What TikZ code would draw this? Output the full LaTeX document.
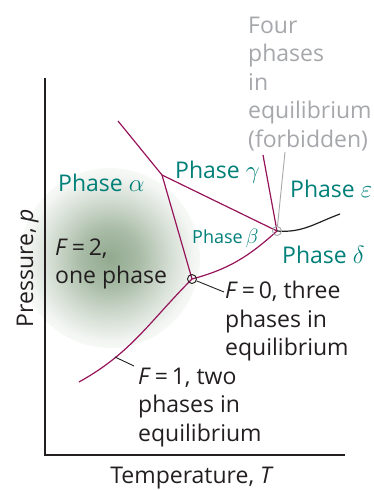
\documentclass[tikz,border=0pt]{standalone}
\usepackage{fontspec}
\setmainfont{Open Sans}
\definecolor{phasecol}{RGB}{0,128,120}
\definecolor{linecol}{RGB}{150,20,90}
\definecolor{graytxt}{RGB}{165,167,170}
\definecolor{blobcol}{RGB}{146,170,143}
\definecolor{inkcol}{RGB}{35,31,32}
\pgfdeclareradialshading{blobshade}{\pgfpoint{0bp}{0bp}}{%
  color(0bp)=(blobcol);
  color(8bp)=(blobcol!80!white);
  color(16bp)=(blobcol!42!white);
  color(23bp)=(blobcol!12!white);
  color(28bp)=(white);
  color(50bp)=(white)}
\begin{document}
\begin{tikzpicture}[x=1pt,y=-1pt,
  phaselbl/.style={text=phasecol,inner sep=0pt,font=\fontsize{23}{28}\selectfont},
  bodytxt/.style={text=inkcol,inner sep=0pt,align=left,font=\fontsize{23}{28.5}\selectfont},
  bound/.style={draw=linecol,line width=1.2pt},
  pointer/.style={draw=inkcol,line width=0.9pt},
  axisline/.style={draw=inkcol,line width=1.2pt}]
\useasboundingbox (0,0) rectangle (373,490);
% shaded one-phase region
\shade[shading=blobshade] (110,258) circle (90);
% axes
\coordinate (ytop) at (45,78);
\coordinate (orig) at (45,455);
\coordinate (xend) at (345,455);
\draw[axisline] (ytop) -- (orig) -- (xend);
% key points
\coordinate (A) at (118,121);
\coordinate (J) at (162,175);
\coordinate (Q) at (277,231);
\coordinate (G) at (263,155);
\coordinate (E) at (340,214);
\coordinate (T) at (192,279);
\coordinate (S) at (79,382);
\coordinate (C1) at (115,357);
% phase boundaries
\draw[bound] (A) -- (J) -- (Q);
\draw[bound] (J) -- (T);
\draw[bound] (G) -- (Q);
\draw[bound] (T) to[out=15,in=222] (Q);
\draw[bound] (S) to[out=29,in=225] (T);
\draw[draw=inkcol,line width=1.2pt] (Q) to[out=-5,in=200] (E);
% points
\node[draw=inkcol,circle,line width=0.9pt,minimum size=9pt,inner sep=0pt] (tc) at (T) {};
\node[draw=graytxt,circle,line width=0.9pt,minimum size=9pt,inner sep=0pt] (qc) at (Q) {};
% phase labels
\node[phaselbl,anchor=base west] (pa) at (58,191) {Phase $\alpha$};
\node[phaselbl,anchor=base west] (pg) at (175,178) {Phase $\gamma$};
\node[phaselbl,anchor=base west] (pe) at (290,197) {Phase $\varepsilon$};
\node[phaselbl,anchor=base west,font=\fontsize{18}{20}\selectfont] (pb) at (192,243) {Phase\,{\fontsize{22}{22}\selectfont$\beta$}};
\node[phaselbl,anchor=base west] (pd) at (282,263) {Phase $\delta$};
% annotations
\node[bodytxt,anchor=north west] (f2) at (55,238.5) {\textit{F}\,=\,2,\\one phase};
\node[bodytxt,anchor=north west] (f0) at (225,281) {\textit{F}\,=\,0, three\\phases in\\equilibrium};
\node[bodytxt,anchor=north west] (f1) at (138,367.5) {\textit{F}\,=\,1, two\\phases in\\equilibrium};
\node[bodytxt,anchor=north west,text=graytxt] (f4) at (248,16.5) {Four\\phases\\in\\equilibrium\\(forbidden)};
% pointers
\coordinate (p0) at (224,292);
\coordinate (p1) at (134,366);
\coordinate (p4) at (285,152);
\draw[pointer] (tc) -- (p0);
\draw[pointer] (C1) -- (p1);
\draw[draw=graytxt,line width=0.9pt] (qc) -- (p4);
% axis titles
\node[text=inkcol,inner sep=0pt,anchor=base,font=\fontsize{23}{28}\selectfont] (xt) at (192,483) {Temperature, \textit{T}};
\node[text=inkcol,inner sep=0pt,anchor=base,rotate=90,font=\fontsize{23}{28}\selectfont] (yt) at (33,268) {Pressure, \textit{p}};
\end{tikzpicture}
\end{document}
